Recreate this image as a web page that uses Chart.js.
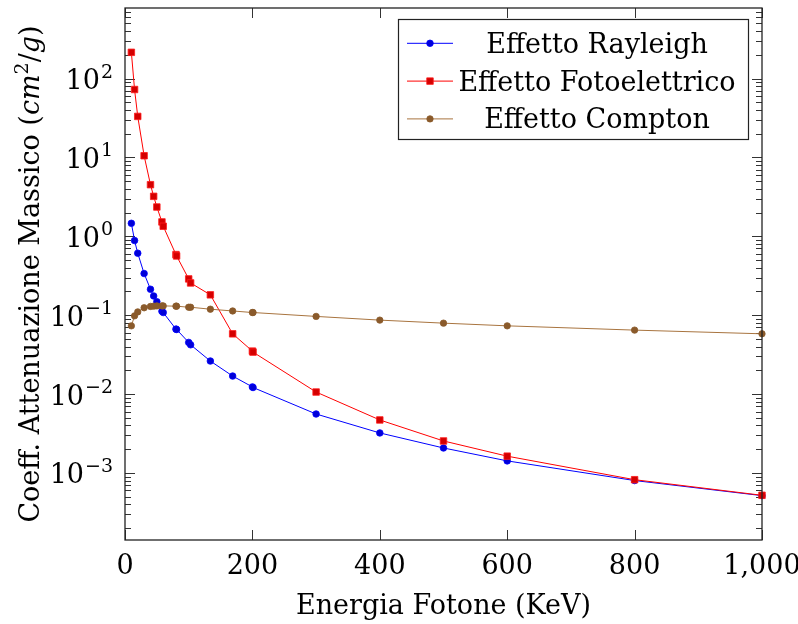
<!DOCTYPE html>
<html>
<head>
<meta charset="utf-8">
<script src="https://cdn.jsdelivr.net/npm/chart.js@4/dist/chart.umd.min.js"></script>
<style>
  html, body { margin: 0; padding: 0; background: #ffffff; }
  #wrap { width: 798px; height: 624px; }
</style>
</head>
<body>
<div id="wrap"><canvas id="chart" width="798" height="624"></canvas></div>
<script>
// Photon energies (keV) shared by the three interaction curves
const energies = [10, 15, 20, 30, 40, 45, 50, 58, 60, 80, 81, 100, 103, 134, 169, 200, 201, 300, 400, 500, 600, 800, 1000];

// Mass attenuation coefficients (cm^2/g)
const rayleigh = [1.46, 0.883, 0.610, 0.337, 0.213, 0.175, 0.148, 0.112, 0.108, 0.0665, 0.0659, 0.0451, 0.0421, 0.0262, 0.0169, 0.0123, 0.0121, 0.00558, 0.00321, 0.00207, 0.00142, 0.00080, 0.000515];
const photoelectric = [215, 72.6, 33.1, 10.5, 4.51, 3.21, 2.35, 1.52, 1.34, 0.586, 0.563, 0.288, 0.256, 0.181, 0.058, 0.035, 0.034, 0.0106, 0.00469, 0.00254, 0.00163, 0.00082, 0.00052];
const compton = [0.0732, 0.098, 0.110, 0.124, 0.129, 0.130, 0.131, 0.131, 0.131, 0.130, 0.130, 0.126, 0.126, 0.119, 0.113, 0.108, 0.108, 0.0964, 0.0865, 0.0792, 0.0732, 0.0646, 0.058];

const seriesNames = ['Effetto Rayleigh', 'Effetto Fotoelettrico', 'Effetto Compton'];

// Axis ticks
const xTicks = [0, 200, 400, 600, 800, 1000];
const yMajorTicks = [1e-3, 1e-2, 1e-1, 1, 10, 100];
const yExponents = ['\u22123', '\u22122', '\u22121', '0', '1', '2'];
const yRange = [1.41e-4, 784];

const FAMILY = '"DejaVu Serif", serif';
const SIZE = 27;

const toPoints = (vals) => energies.map((e, i) => ({ x: e, y: vals[i] }));

// pgfplots-like frame, inward ticks, legend and y-axis labels
const pgfAxes = {
  id: 'pgfAxes',
  beforeDatasetsDraw(chart) {
    const { ctx, chartArea: { left, right, top, bottom }, scales: { x, y } } = chart;
    ctx.save();
    ctx.strokeStyle = '#333';
    ctx.lineWidth = 1;
    ctx.beginPath();
    xTicks.forEach(v => {
      const px = Math.round(x.getPixelForValue(v)) + 0.5;
      ctx.moveTo(px, bottom); ctx.lineTo(px, bottom - 10);
      ctx.moveTo(px, top); ctx.lineTo(px, top + 10);
    });
    for (let d = -4; d <= 2; d++) {
      for (let m = 1; m <= 9; m++) {
        const v = m * Math.pow(10, d);
        if (v < y.min || v > y.max) continue;
        const len = m === 1 ? 10 : 6;
        const py = Math.round(y.getPixelForValue(v)) + 0.5;
        ctx.moveTo(left, py); ctx.lineTo(left + len, py);
        ctx.moveTo(right, py); ctx.lineTo(right - len, py);
      }
    }
    ctx.stroke();
    ctx.restore();
  },
  afterDraw(chart) {
    const { ctx, chartArea: { left, right, top, bottom }, scales: { y } } = chart;
    ctx.save();
    // frame
    ctx.strokeStyle = '#222';
    ctx.lineWidth = 1.3;
    ctx.strokeRect(left, top, right - left, bottom - top);

    // y tick labels: 10 with raised exponent
    ctx.fillStyle = '#000';
    ctx.textBaseline = 'alphabetic';
    yMajorTicks.forEach((v, i) => {
      const py = y.getPixelForValue(v);
      ctx.font = `19px ${FAMILY}`;
      const ew = ctx.measureText(yExponents[i]).width;
      ctx.textAlign = 'right';
      ctx.fillText(yExponents[i], 113, py - 1);
      ctx.font = `${SIZE}px ${FAMILY}`;
      ctx.fillText('10', 113 - ew - 1, py + 10.5);
    });

    // y axis title with italic units
    const runs = [
      { t: 'Coeff. Attenuazione Massico (', f: `${SIZE}px ${FAMILY}`, dy: 0 },
      { t: 'cm', f: `italic ${SIZE}px ${FAMILY}`, dy: 0 },
      { t: '2', f: `19px ${FAMILY}`, dy: -11 },
      { t: '/', f: `${SIZE}px ${FAMILY}`, dy: 0 },
      { t: 'g', f: `italic ${SIZE}px ${FAMILY}`, dy: 0 },
      { t: ')', f: `${SIZE}px ${FAMILY}`, dy: 0 }
    ];
    let total = 0;
    runs.forEach(r => { ctx.font = r.f; r.w = ctx.measureText(r.t).width; total += r.w; });
    ctx.translate(30, (top + bottom) / 2);
    ctx.rotate(-Math.PI / 2);
    ctx.textAlign = 'left';
    let cx = -total / 2;
    runs.forEach(r => { ctx.font = r.f; ctx.fillText(r.t, cx, 9 + r.dy); cx += r.w; });
    ctx.restore();

    // legend box
    ctx.save();
    const bx = 398.5, by = 19.5, bw = 350, bh = 120;
    ctx.fillStyle = '#fff';
    ctx.fillRect(bx, by, bw, bh);
    ctx.strokeStyle = '#222';
    ctx.lineWidth = 1.2;
    ctx.strokeRect(bx, by, bw, bh);
    const rowY = [43.3, 81.1, 118.9];
    chart.data.datasets.forEach((ds, i) => {
      const yy = rowY[i];
      ctx.strokeStyle = ds.borderColor;
      ctx.lineWidth = 1;
      ctx.beginPath();
      ctx.moveTo(407, yy); ctx.lineTo(453, yy);
      ctx.stroke();
      ctx.fillStyle = ds.pointBackgroundColor;
      ctx.strokeStyle = ds.pointBorderColor;
      ctx.beginPath();
      if (ds.pointStyle === 'rect') {
        const s = Math.SQRT1_2 * ds.pointRadius;
        ctx.rect(430 - s, yy - s, 2 * s, 2 * s);
      } else {
        ctx.arc(430, yy, ds.pointRadius, 0, Math.PI * 2);
      }
      ctx.fill();
      ctx.lineWidth = ds.pointBorderWidth;
      ctx.stroke();
      ctx.fillStyle = '#000';
      ctx.font = `${SIZE}px ${FAMILY}`;
      ctx.textAlign = 'center';
      ctx.textBaseline = 'alphabetic';
      ctx.fillText(ds.label, 597, yy + 9.4);
    });
    ctx.restore();
  }
};

const palette = [
  { line: '#0000ff', fill: '#0000d8', edge: '#0000ff', style: 'circle', r: 3.3, order: 3 },
  { line: '#ff0000', fill: '#d40000', edge: '#ff1a1a', style: 'rect', r: 4.6, order: 2 },
  { line: '#a8743f', fill: '#8a5a2b', edge: '#8a5a2b', style: 'circle', r: 3.2, order: 1 }
];
const seriesValues = [rayleigh, photoelectric, compton];

new Chart(document.getElementById('chart'), {
  type: 'line',
  data: {
    datasets: seriesValues.map((vals, i) => ({
      label: seriesNames[i],
      data: toPoints(vals),
      borderColor: palette[i].line,
      borderWidth: 1,
      backgroundColor: palette[i].fill,
      pointBackgroundColor: palette[i].fill,
      pointBorderColor: palette[i].edge,
      pointBorderWidth: 0.8,
      pointStyle: palette[i].style,
      pointRadius: palette[i].r,
      tension: 0,
      clip: false,
      order: palette[i].order
    }))
  },
  options: {
    responsive: false,
    animation: false,
    devicePixelRatio: 1,
    layout: { padding: { top: 8, right: 36, left: 0, bottom: 0 } },
    plugins: { legend: { display: false }, tooltip: { enabled: false } },
    scales: {
      x: {
        type: 'linear',
        min: 0,
        max: 1000,
        afterBuildTicks: (s) => { s.ticks = xTicks.map(v => ({ value: v })); },
        afterFit: (s) => { s.height = 84; s.paddingLeft = 0; s.paddingRight = 0; },
        grid: { display: false, drawTicks: false },
        border: { display: false },
        ticks: {
          color: '#000',
          padding: 11,
          maxRotation: 0,
          font: { family: FAMILY, size: SIZE },
          callback: (v) => v.toLocaleString('en-US')
        },
        title: {
          display: true,
          text: 'Energia Fotone (KeV)',
          color: '#000',
          font: { family: FAMILY, size: SIZE },
          padding: { top: 0, bottom: 1 }
        }
      },
      y: {
        type: 'logarithmic',
        min: yRange[0],
        max: yRange[1],
        afterBuildTicks: (s) => { s.ticks = yMajorTicks.map(v => ({ value: v })); },
        afterFit: (s) => { s.width = 125; s.paddingTop = 0; s.paddingBottom = 0; },
        grid: { display: false, drawTicks: false },
        border: { display: false },
        ticks: { display: false }
      }
    }
  },
  plugins: [pgfAxes]
});
</script>
</body>
</html>
